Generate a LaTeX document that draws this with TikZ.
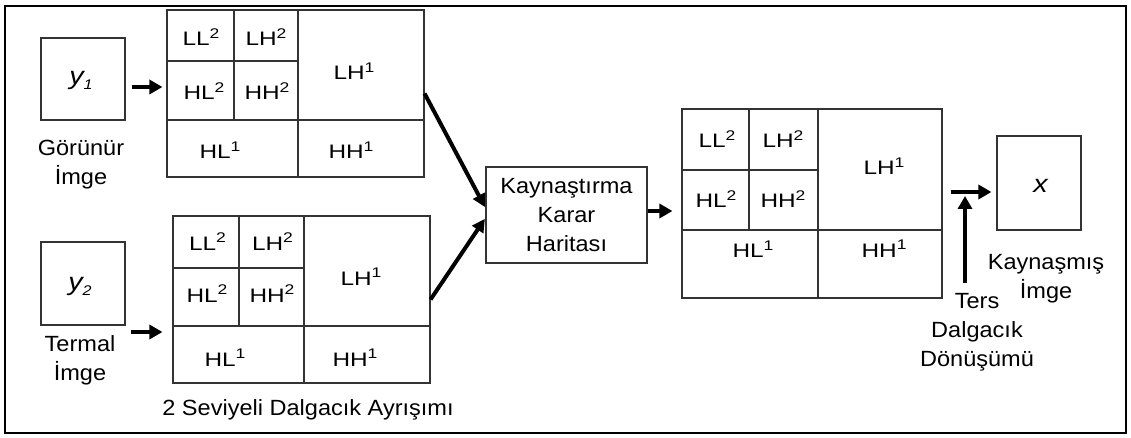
\documentclass[tikz,border=0pt]{standalone}
\usepackage{fontspec}
\setmainfont{Liberation Sans}[FakeStretch=1.07]
\newfontfamily\lblfont{Liberation Sans}[FakeStretch=1.25]
\newfontfamily\varfont{Liberation Sans}[FakeStretch=1.15]
\usetikzlibrary{arrows.meta}
\newcommand\sps[1]{\raisebox{7.5pt}{\fontsize{14}{14}\selectfont #1}}
\newcommand\subs[1]{\raisebox{-5pt}{\fontsize{14}{14}\selectfont\itshape #1}}
\begin{document}
\begin{tikzpicture}[x=1pt,y=-1pt,
  box/.style={draw=black!80, line width=1.1pt},
  cell/.style={draw=black!80, line width=1.1pt, inner sep=0pt},
  lbl/.style={inner sep=0pt, anchor=base, font=\lblfont\fontsize{19.5}{26}\selectfont},
  var/.style={inner sep=0pt, anchor=base, font=\varfont\fontsize{25}{25}\selectfont\itshape},
  txt/.style={inner sep=0pt, align=center, font=\fontsize{22}{29}\selectfont},
  arr/.style={line width=4.5pt, -{Triangle[length=13pt,width=14pt]}},
  darr/.style={line width=4pt, -{Triangle[length=13pt,width=13pt]}},
  ]
\useasboundingbox (0,0) rectangle (1131,438);
\fill[white] (0,0) rectangle (1131,438);
\draw[line width=2.2pt] (5,6) rectangle (1126,433);

% input images
\node[cell, minimum width=84pt, minimum height=82pt] (img1) at (83,79) {};
\node[var] (y1) at (81,85) {y\subs{1}};
\node[txt, anchor=north] (vis) at (81,140) {Görünür\\İmge};

\node[cell, minimum width=84pt, minimum height=83pt] (img2) at (83,283.5) {};
\node[var] (y2) at (80,290) {y\subs{2}};
\node[txt, anchor=north] (ter) at (80,335) {Termal\\İmge};

% decomposition 1
\node[cell, minimum width=257pt, minimum height=167pt] (dec1) at (295.5,93.5) {};
\draw[box] (234,10) -- (234,120) (298,10) -- (298,177) (167,61) -- (298,61) (167,120) -- (424,120);
\node[lbl] (d1a) at (201,46) {LL\sps{2}};
\node[lbl] (d1b) at (266,46) {LH\sps{2}};
\node[lbl] (d1c) at (204,100) {HL\sps{2}};
\node[lbl] (d1d) at (267,100) {HH\sps{2}};
\node[lbl] (d1e) at (354,80) {LH\sps{1}};
\node[lbl] (d1f) at (220,159) {HL\sps{1}};
\node[lbl] (d1g) at (351,159) {HH\sps{1}};

% decomposition 2
\node[cell, minimum width=257pt, minimum height=167pt] (dec2) at (301.5,299.5) {};
\draw[box] (239,216) -- (239,326) (304,216) -- (304,383) (173,268) -- (304,268) (173,326) -- (430,326);
\node[lbl] (d2a) at (207.5,250) {LL\sps{2}};
\node[lbl] (d2b) at (272.5,250) {LH\sps{2}};
\node[lbl] (d2c) at (207,302) {HL\sps{2}};
\node[lbl] (d2d) at (272,302) {HH\sps{2}};
\node[lbl] (d2e) at (361,285) {LH\sps{1}};
\node[lbl] (d2f) at (225,366) {HL\sps{1}};
\node[lbl] (d2g) at (355,366) {HH\sps{1}};
\node[txt, anchor=base] (lev) at (308,415) {2 Seviyeli Dalgacık Ayrışımı};

% fusion
\node[cell, minimum width=161pt, minimum height=96pt, txt, draw=black!80, line width=1.1pt] (fus) at (566.5,215) {Kaynaştırma\\Karar\\Haritası};

% decomposition 3
\node[cell, minimum width=260pt, minimum height=189pt] (dec3) at (812,203.5) {};
\draw[box] (749,109) -- (749,230) (818,109) -- (818,298) (682,170) -- (818,170) (682,230) -- (942,230);
\node[lbl] (d3a) at (717,148) {LL\sps{2}};
\node[lbl] (d3b) at (783,148) {LH\sps{2}};
\node[lbl] (d3c) at (716,208) {HL\sps{2}};
\node[lbl] (d3d) at (783,208) {HH\sps{2}};
\node[lbl] (d3e) at (884,175) {LH\sps{1}};
\node[lbl] (d3f) at (753,258) {HL\sps{1}};
\node[lbl] (d3g) at (884,257) {HH\sps{1}};

% output image
\node[cell, minimum width=84pt, minimum height=94pt] (imgx) at (1039,183) {};
\node[var] (xl) at (1040.5,193) {x};
\node[txt, anchor=north] (out) at (1046,254) {Kaynaşmış\\İmge};
\node[txt, anchor=north] (inv) at (977,293) {Ters\\Dalgacık\\Dönüşümü};

% arrows
\draw[arr, shorten <=6pt, shorten >=4pt] ([yshift=-8pt]img1.east) -- ([yshift=6.5pt]dec1.west);
\draw[arr, shorten <=5pt, shorten >=10pt] ([yshift=-48.5pt]img2.east) -- ([yshift=-32.5pt]dec2.west);
\draw[darr, shorten >=1pt] (dec1.east) -- ([yshift=7pt]fus.west);
\draw[darr, shorten >=1pt] (dec2.east) -- ([yshift=-3pt]fus.west);
\draw[arr, shorten >=9pt] ([yshift=4pt]fus.east) -- ([yshift=-7.5pt]dec3.west);
\draw[arr, shorten <=8pt, shorten >=5pt] ([yshift=11.5pt]dec3.east) -- ([yshift=-9pt]imgx.west);
\coordinate (tb) at (965,283);
\coordinate (tt) at (965,196);
\draw[arr] (tb) -- (tt);
\end{tikzpicture}
\end{document}
